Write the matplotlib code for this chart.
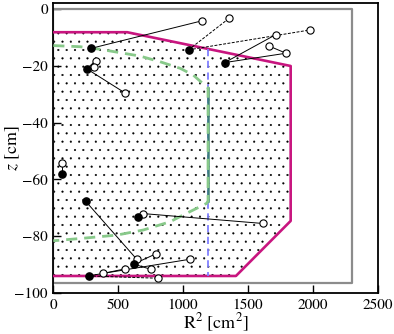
import numpy as np
import matplotlib
matplotlib.use('Agg')
import matplotlib.pyplot as plt
from matplotlib.patches import Polygon

plt.rcParams['font.family'] = 'STIXGeneral'
plt.rcParams['mathtext.fontset'] = 'stix'
plt.rcParams['hatch.linewidth'] = 0.3

# detector outline (R^2 [cm^2], z [cm])
outer_r2 = [0, 2300, 2300, 0]
outer_z = [0, 0, -96.6, -96.6]
fid_r2 = [0, 570, 1830, 1830, 1408, 0]
fid_z = [-8.1, -8.1, -20.0, -74.6, -94.0, -94.0]

# green boundary: top arc, vertical wall, bottom arc
top_r2 = [0, 206, 360, 514, 668, 823, 977, 1079, 1131, 1193]
top_z = [-12.8, -13.2, -14.1, -15.3, -16.5, -18.5, -20.8, -23.2, -25.3, -27.7]
bot_r2 = [1193, 1183, 1002, 900, 694, 489, 231, 0]
bot_z = [-67.5, -68.4, -72.5, -74.9, -77.8, -79.6, -80.7, -81.6]
cut_r2 = 1192
cut_z = [-14.0, -94.0]

# events: true position (filled) and reconstructed positions (open)
true_r2 = [290, 258, 1043, 1321, 69, 250, 650, 619, 272]
true_z = [-13.8, -21.0, -14.3, -18.8, -57.9, -67.7, -73.2, -89.8, -94.0]
open_r2 = [1144, 553, 327, 310, 1355, 1979, 1717, 1794, 1660, 69, 643, 689, 1615,
           791, 755, 383, 1054, 553, 805]
open_z = [-4.1, -29.5, -18.1, -20.4, -3.2, -7.3, -8.9, -15.5, -12.9, -54.1, -88.1,
          -72.0, -75.5, -86.2, -91.7, -93.1, -88.1, -91.5, -94.8]
# links: (from point, to point, style); 't' = true index, 'o' = open index
links = [
    (('t', 0), ('o', 0), '-'),
    (('t', 1), ('o', 1), '-'),
    (('t', 1), ('o', 2), '-'),
    (('t', 1), ('o', 3), '-'),
    (('t', 2), ('o', 4), '--'),
    (('t', 2), ('o', 5), '--'),
    (('t', 3), ('o', 6), '-'),
    (('t', 3), ('o', 7), '-'),
    (('o', 8), ('o', 7), '-'),
    (('t', 4), ('o', 9), '-'),
    (('t', 5), ('o', 10), '-'),
    (('t', 6), ('o', 11), '-'),
    (('o', 11), ('o', 12), '-'),
    (('t', 7), ('o', 13), '-'),
    (('t', 7), ('o', 14), '-'),
    (('t', 8), ('o', 15), '-'),
    (('o', 15), ('o', 16), '-'),
    (('o', 15), ('o', 17), '-'),
    (('t', 8), ('o', 18), '--'),
]


def pt(ref):
    kind, i = ref
    if kind == 't':
        return true_r2[i], true_z[i]
    return open_r2[i], open_z[i]


fig = plt.figure(figsize=(3.94, 3.34), dpi=100)
ax = fig.add_axes([0.1353, 0.1228, 0.8230, 0.8682])

# event texture inside the fiducial volume
ax.add_patch(Polygon(list(zip(fid_r2, fid_z)), closed=True, facecolor='none',
                     edgecolor='black', lw=0, hatch='..', zorder=1))

ax.plot(outer_r2 + [outer_r2[0]], outer_z + [outer_z[0]], color='#8c8c8c', lw=1.6, zorder=2)
ax.plot(fid_r2, fid_z, color='#c8157f', lw=1.9, zorder=3)

ax.plot([cut_r2, cut_r2], cut_z, color='#8080ff', lw=1.3, ls=(0, (4, 2.5)), zorder=3)
ax.plot([cut_r2, cut_r2], [top_z[-1], bot_z[0]], color='#3d7f7a', lw=1.8, zorder=3)
ax.plot(top_r2 + bot_r2, top_z + bot_z, color='#88c98a', lw=2.0, ls=(0, (4, 2.5)), zorder=4)

for a, b, style in links:
    x0, y0 = pt(a)
    x1, y1 = pt(b)
    ax.plot([x0, x1], [y0, y1], color='black', lw=0.7, ls=style if style == '-' else (0, (3, 1.5)), zorder=5)

ax.plot(open_r2, open_z, 'o', ms=5.2, mfc='white', mec='black', mew=0.8, zorder=6)
ax.plot(true_r2, true_z, 'o', ms=5.2, mfc='black', mec='black', zorder=7)

ax.set_xlim(0, 2500)
ax.set_ylim(-100, 2.2)
ax.set_xticks([0, 500, 1000, 1500, 2000, 2500])
ax.set_yticks([-100, -80, -60, -40, -20, 0])
ax.tick_params(direction='in', length=6, width=1.0, labelsize=11, pad=4)
for s in ax.spines.values():
    s.set_linewidth(1.3)
ax.set_xlabel('R$^2$ [cm$^2$]', fontsize=13, labelpad=0)
ax.set_ylabel('$z$ [cm]', fontsize=13)
ax.yaxis.set_label_coords(-0.098, 0.5)

fig.savefig('out.png', dpi=100)
